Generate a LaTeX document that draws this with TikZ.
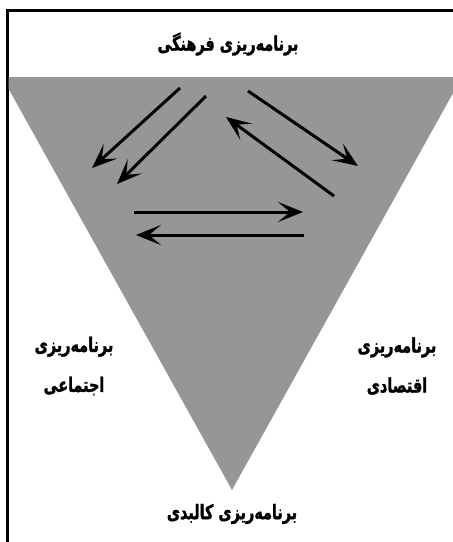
\documentclass[tikz,border=0pt]{standalone}
\usepackage{fontspec}
\usepackage{tikz}
\usetikzlibrary{arrows.meta, positioning}
\newfontfamily\arabicfont[Script=Arabic, FakeStretch=0.72, FakeBold=1.4]{DejaVu Sans Bold}
\TeXXeTstate=1
\definecolor{trigray}{RGB}{150, 150, 150}

\begin{document}
\begin{tikzpicture}[x=1pt, y=-1pt,
      lbl/.style={font=\arabicfont\fontsize{20}{40}\selectfont,
                  align=center, inner sep=0pt},
      ar/.style={line width=3pt, -{Stealth[length=25pt, width=20pt, inset=12pt]}}
    ]
      \useasboundingbox (0,0) rectangle (453,542);

      % frame
      \draw[line width=3pt] (7,542) -- (7,10) -- (453,10);

      % shaded triangle
      \begin{scope}
        \clip (8.5,0) rectangle (453,542);
        \fill[trigray] (2,77) -- (462,77) -- (232,490) -- cycle;
      \end{scope}

      % labels
      \node[lbl] (cult) at (228,44)  {\beginR برنامه‌ریزی فرهنگی\endR};
      \node[lbl] (soc)  at (74,366)  {\beginR برنامه‌ریزی\endR\\\beginR اجتماعی\endR};
      \node[lbl] (eco)  at (397,366) {\beginR برنامه‌ریزی\endR\\\beginR اقتصادی\endR};
      \node[lbl] (phys) at (232,514) {\beginR برنامه‌ریزی کالبدی\endR};

      % arrow ends
      \coordinate (a1) at (180,88);  \coordinate (b1) at (92,168);
      \coordinate (a2) at (206,96);  \coordinate (b2) at (117,184);
      \coordinate (a3) at (248,91);  \coordinate (b3) at (358,166);
      \coordinate (a4) at (334,196); \coordinate (b4) at (226,117);
      \coordinate (a5) at (134,212); \coordinate (b5) at (303,212);
      \coordinate (a6) at (304,235); \coordinate (b6) at (136,235);

      % arrows
      \draw[ar] (a1) -- (b1);
      \draw[ar] (a2) -- (b2);
      \draw[ar] (a3) -- (b3);
      \draw[ar] (a4) -- (b4);
      \draw[ar] (a5) -- (b5);
      \draw[ar] (a6) -- (b6);
    \end{tikzpicture}
\end{document}
